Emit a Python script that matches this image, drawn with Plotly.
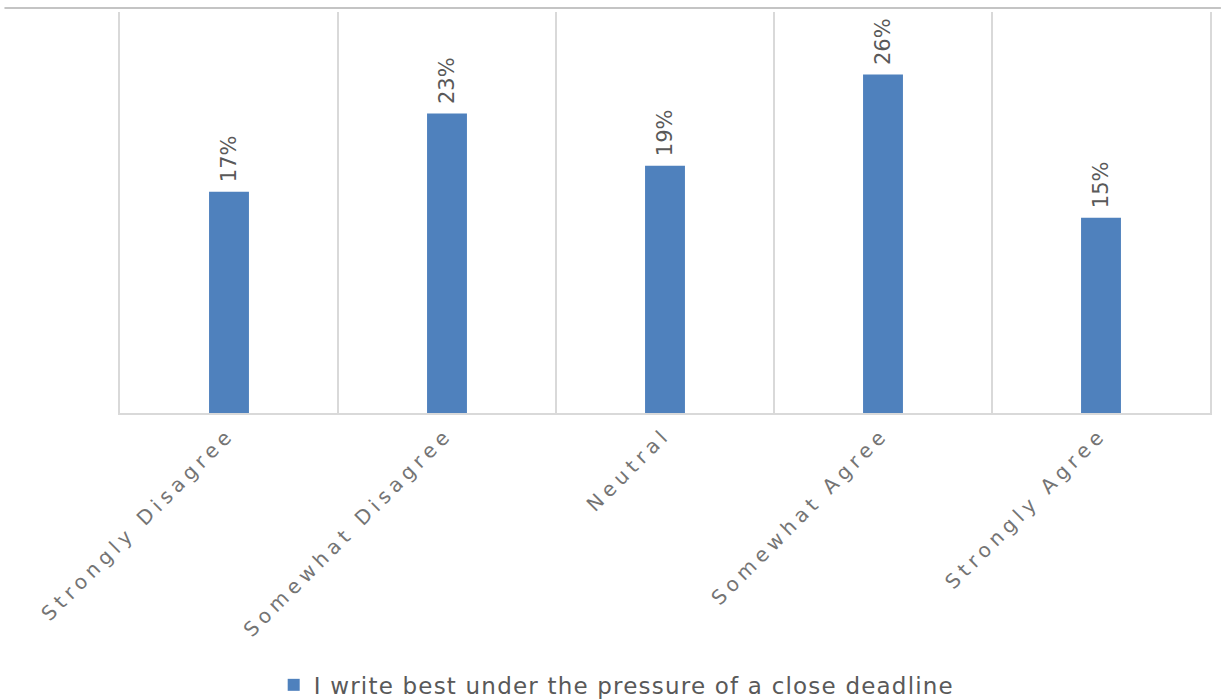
import plotly.graph_objects as go

# Survey responses
categories = ["Strongly Disagree", "Somewhat Disagree", "Neutral", "Somewhat Agree", "Strongly Agree"]
shares = [17, 23, 19, 26, 15]
labels = ["17%", "23%", "19%", "26%", "15%"]
series_name = "I write best under the pressure of a close deadline"

BLUE = "#4F81BD"
TEXT = "#595959"
TICK_TEXT = "#747474"
GRID = "#D9D9D9"
FONT = "DejaVu Sans"

fig = go.Figure(
    go.Bar(
        x=categories,
        y=shares,
        name=series_name,
        marker=dict(color=BLUE, line=dict(width=0)),
        showlegend=True,
    )
)

# value labels, rotated, sitting just above each bar
for cat, val, lab in zip(categories, shares, labels):
    fig.add_annotation(
        x=cat, y=val, text=lab,
        showarrow=False, textangle=-90,
        xanchor="center", yanchor="bottom", yshift=7,
        font=dict(family=FONT, size=21, color=TEXT),
    )

fig.update_layout(
    width=1221,
    height=700,
    margin=dict(l=120, r=11, t=12, b=287, autoexpand=False),
    paper_bgcolor="white",
    plot_bgcolor="white",
    bargap=0.817,
    showlegend=True,
    legend=dict(
        orientation="h",
        x=0.141,
        xanchor="left",
        y=-0.678,
        yanchor="middle",
        font=dict(family=FONT, size=23, color=TEXT),
        itemwidth=30,
        bgcolor="rgba(0,0,0,0)",
    ),
    font=dict(family=FONT, color=TEXT),
)

fig.update_xaxes(
    type="category",
    automargin=False,
    tickson="boundaries",
    showgrid=True,
    gridcolor=GRID,
    gridwidth=1.5,
    showline=True,
    linecolor=GRID,
    linewidth=1.5,
    ticks="",
    tickangle=-45,
    tickfont=dict(family=FONT, size=20, color=TICK_TEXT),
)
fig.update_yaxes(
    range=[0, 30.8],
    automargin=False,
    showgrid=False,
    zeroline=False,
    showticklabels=False,
    ticks="",
    showline=True,
    mirror=True,
    linecolor=GRID,
    linewidth=1.5,
)

# thin rule along the top edge
fig.add_shape(
    type="line", xref="paper", yref="paper",
    x0=-0.106, x1=1.01, y0=1.01, y1=1.01,
    line=dict(color="#C4C4C4", width=2),
)

# widen the letter spacing of the category labels and the legend entry;
# the legend's clip box is sized before the spacing, so drop it
spacing_js = """
document.querySelectorAll('.xtick text').forEach(function (t) {
    t.style.letterSpacing = '5px';
});
document.querySelectorAll('.legendtext').forEach(function (t) {
    t.style.letterSpacing = '1.2px';
});
document.querySelectorAll('.legend [clip-path]').forEach(function (g) {
    g.removeAttribute('clip-path');
});
"""

fig.write_html("out.html", post_script=spacing_js)
